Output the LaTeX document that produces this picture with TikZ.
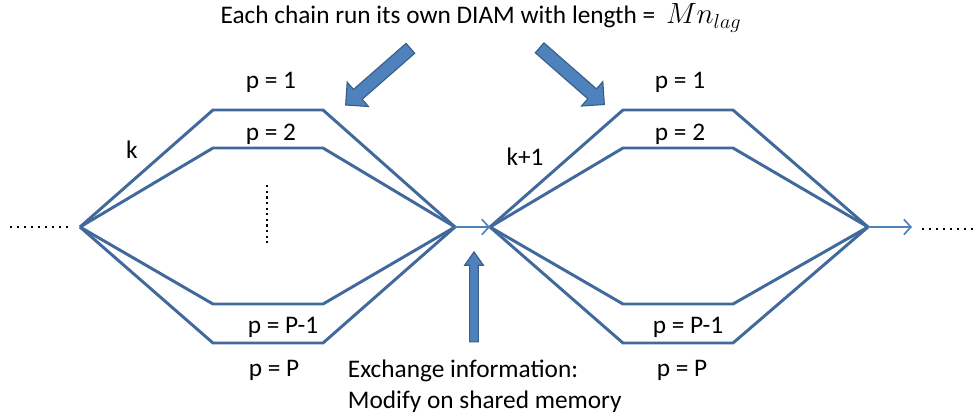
\documentclass[tikz,border=0pt]{standalone}
\usepackage{fontspec}
\setmainfont{Carlito}
\usetikzlibrary{arrows.meta,shapes.arrows}
\definecolor{chainblue}{HTML}{41699C}
\definecolor{fillblue}{HTML}{4F81BD}
\definecolor{edgeblue}{HTML}{385D8A}

\begin{document}
\begin{tikzpicture}[x=0.025cm,y=-0.025cm,
    chain/.style={draw=chainblue,line width=2.1pt,line join=miter},
    lbl/.style={font=\fontsize{18}{22}\selectfont},
    bigarrow/.style={single arrow,draw=edgeblue,fill=fillblue,line width=0.8pt,inner xsep=0pt},
    link/.style={draw=fillblue,line width=1.2pt,-{Straight Barb[length=5pt,width=11pt]}},
    dots/.style={line width=1.6pt,dash pattern=on 1.6pt off 3.4pt}]
    \useasboundingbox (0,0) rectangle (976,417);

    % chain k
    \coordinate (kin) at (80,227);
    \coordinate (kout) at (455,227);
    \foreach \y in {110,148,304,343}
        \draw[chain] (kin) -- (213,\y) -- (323,\y) -- (kout);

    % chain k+1
    \coordinate (nin) at (490,227);
    \coordinate (nout) at (868,227);
    \foreach \y in {110,148,304,343}
        \draw[chain] (nin) -- (623,\y) -- (733,\y) -- (nout);

    % dots on both sides and between the chains
    \coordinate (ldot0) at (10,227);
    \coordinate (ldot1) at (68,227);
    \draw[dots] (ldot0) -- (ldot1);
    \coordinate (rdot0) at (922,229);
    \coordinate (rdot1) at (976,229);
    \draw[dots] (rdot0) -- (rdot1);
    \coordinate (vdot0) at (267,185);
    \coordinate (vdot1) at (267,243);
    \draw[dots,dash pattern=on 1.6pt off 2.4pt] (vdot0) -- (vdot1);

    % links
    \coordinate (aout) at (912,227);
    \draw[link] (kout) -- (nin);
    \draw[link] (nout) -- (aout);

    % labels of chain k
    \node[lbl] (k) at (132,150) {k};
    \node[lbl] (kp1) at (271,82) {p = 1};
    \node[lbl] (kp2) at (271,134) {p = 2};
    \node[lbl] (kpm) at (283,327) {p = P-1};
    \node[lbl] (kpP) at (274,370) {p = P};

    % labels of chain k+1
    \node[lbl] (kk) at (525,157) {k+1};
    \node[lbl] (np1) at (680,82) {p = 1};
    \node[lbl] (np2) at (680,134) {p = 2};
    \node[lbl] (npm) at (688,327) {p = P-1};
    \node[lbl] (npP) at (682,370) {p = P};

    % title and block arrows
    \node[lbl,inner ysep=0pt] (title) at (481,18) {Each chain run its own DIAM with length = \fontsize{22}{22}\selectfont\(\,Mn_{lag}\)};
    \node[bigarrow,minimum height=2.15cm,inner ysep=0.15cm,
        single arrow head extend=0.24cm,rotate=221.2] (downl) at (380.5,74.5) {};
    \node[bigarrow,minimum height=2.15cm,inner ysep=0.15cm,
        single arrow head extend=0.24cm,rotate=-41.2] (downr) at (569.5,74) {};

    % exchange step
    \node[bigarrow,minimum height=2.25cm,inner ysep=0.095cm,
        single arrow head extend=0.125cm,single arrow tip angle=70,rotate=90] (up) at (474,300) {};
    \node[lbl,anchor=west,align=left] (exch) at (343,386) {Exchange information:\\Modify on shared memory};
\end{tikzpicture}
\end{document}
